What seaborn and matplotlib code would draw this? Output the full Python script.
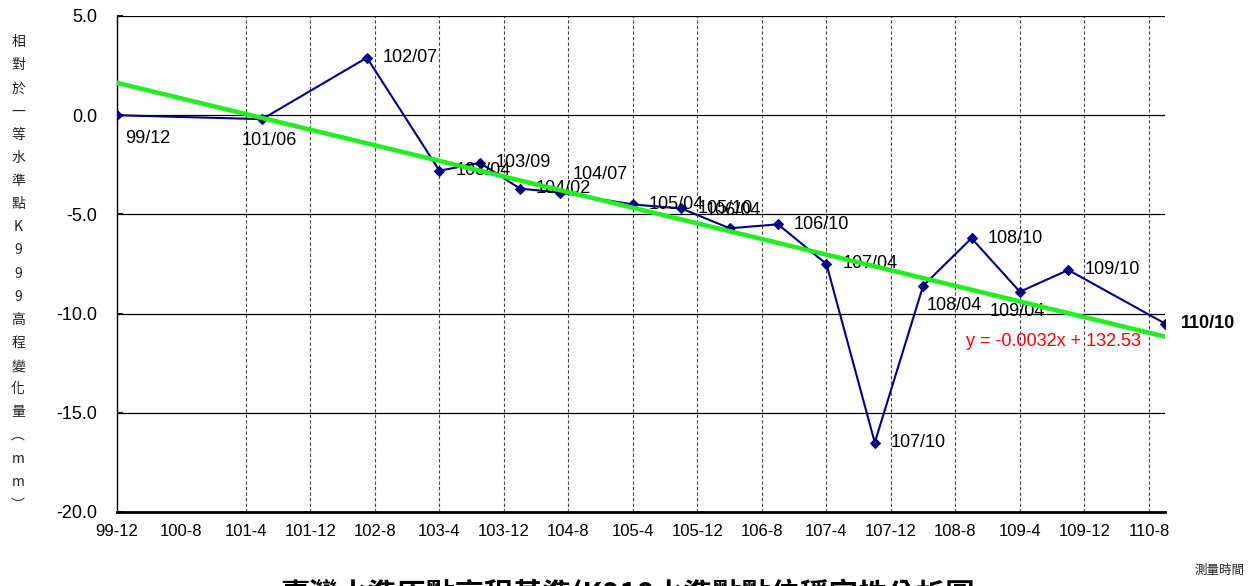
"""
K999 benchmark height change vs. time, with linear trend (Excel-style chart).
"""
import numpy as np
import pandas as pd
import matplotlib
matplotlib.use("Agg")
import matplotlib.pyplot as plt
import seaborn as sns

# ── data ───────────────────────────────────────────────────────────────
survey_dates = ["99/12", "101/06", "102/07", "103/04", "103/09", "104/02",
                "104/07", "105/04", "105/10", "106/04", "106/10", "107/04",
                "107/10", "108/04", "108/10", "109/04", "109/10", "110/10"]
height_change = [0.0, -0.2, 2.9, -2.8, -2.4, -3.7,
                 -3.9, -4.5, -4.7, -5.7, -5.5, -7.5,
                 -16.5, -8.6, -6.2, -8.9, -7.8, -10.5]
x_tick_labels = ["99-12", "100-8", "101-4", "101-12", "102-8", "103-4",
                 "103-12", "104-8", "105-4", "105-12", "106-8", "107-4",
                 "107-12", "108-8", "109-4", "109-12", "110-8"]
y_ticks = [5.0, 0.0, -5.0, -10.0, -15.0, -20.0]
trend_text = "y = -0.0032x + 132.53"
y_label = "相對於一等水準點K999高程變化量︵mm︶"
x_label = "測量時間"
title = "臺灣水準原點高程基準(K918水準點點位穩定性分析圖"

W, H = 1255, 586


def to_month(s, sep):
    # months since ROC 99/12
    yr, mo = s.split(sep)
    return (int(yr) - 99) * 12 + int(mo) - 12


df = pd.DataFrame({
    "label": survey_dates,
    "month": [to_month(s, "/") for s in survey_dates],
    "dh": height_change,
})
tick_pos = [to_month(s, "-") for s in x_tick_labels]

# ── style ──────────────────────────────────────────────────────────────
sns.set_theme(style="white")
plt.rcParams["font.family"] = ["Liberation Sans", "Noto Sans CJK TC", "DejaVu Sans"]
cjk = ["Noto Sans CJK TC", "DejaVu Sans"]

fig = plt.figure(figsize=(W / 100, H / 100), dpi=100)
ax = fig.add_axes([117 / W, 1 - 512 / H, (1165 - 117) / W, (512 - 16) / H])

# data line + trend
sns.lineplot(data=df, x="month", y="dh", ax=ax, color="#000080", lw=1.5,
             marker="D", markersize=5, markeredgecolor="#000080", zorder=3)
sns.regplot(data=df, x="month", y="dh", ax=ax, scatter=False, ci=None,
            color="#22ee22", line_kws={"lw": 3.3, "zorder": 5})

ax.set_xlim(df["month"].iloc[0], df["month"].iloc[-1])
ax.set_ylim(y_ticks[-1], y_ticks[0])
ax.set_xticks(tick_pos)
ax.set_xticklabels(x_tick_labels)
ax.set_yticks(y_ticks)
ax.set_yticklabels([f"{v:.1f}" for v in y_ticks])
ax.set_xlabel("")
ax.set_ylabel("")

ax.yaxis.grid(True, color="black", lw=0.9)
ax.xaxis.grid(True, color="#444444", lw=0.8, ls=(0, (3, 2)))
ax.xaxis.get_gridlines()[1].set_visible(False)

for side in ["top", "right"]:
    ax.spines[side].set_visible(False)
ax.spines["left"].set_color("black")
ax.spines["left"].set_linewidth(1.0)
ax.spines["bottom"].set_color("black")
ax.spines["bottom"].set_linewidth(2.0)

ax.tick_params(axis="y", left=True, direction="in", length=4, color="black",
               pad=14, labelsize=13, labelcolor="black")
ax.tick_params(axis="x", bottom=False, length=0, pad=9, labelsize=12,
               labelcolor="black")

# ── point labels ───────────────────────────────────────────────────────
offsets = {"99/12": (8, -23), "101/06": (-20, -21), "104/07": (12, 18),
           "106/04": (-24, 18), "108/04": (3, -20), "109/04": (-30, -20)}
for _, r in df.iterrows():
    dx, dy = offsets.get(r["label"], (16, 0))
    last = r["label"] == survey_dates[-1]
    ax.annotate(r["label"], (r["month"], r["dh"]), xytext=(dx, dy),
                textcoords="offset pixels", ha="left", va="center",
                fontsize=13, color="black", zorder=4,
                fontweight="bold" if last else "normal")

ax.text((966 - 117) / 1048, (512 - 342) / 496, trend_text, transform=ax.transAxes,
        ha="left", va="center", fontsize=13, color="red", zorder=6)

# ── outer texts ────────────────────────────────────────────────────────
for i, ch in enumerate(y_label):
    fig.text(18 / W, 1 - (42 + i * 23.15) / H, ch, ha="center", va="center",
             fontsize=10, color="#222222", family=cjk)

fig.text(1220 / W, 1 - 570 / H, x_label, ha="center", va="center",
         fontsize=9, color="#222222", family=cjk)
fig.text(0.5, -0.03, title, ha="center", va="baseline", fontsize=21,
         fontweight="bold", color="black", family=cjk)

fig.savefig("out.png", dpi=100)
